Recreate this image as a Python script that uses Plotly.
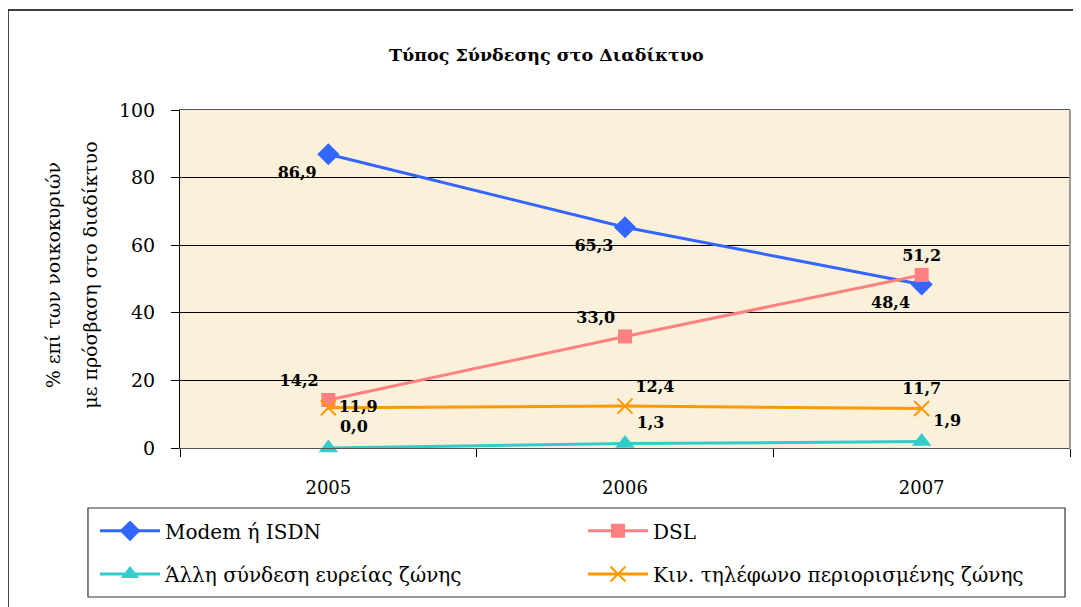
import plotly.graph_objects as go

years = ["2005", "2006", "2007"]
modem = [86.9, 65.3, 48.4]
dsl = [14.2, 33.0, 51.2]
other_broadband = [0.0, 1.3, 1.9]
mobile = [11.9, 12.4, 11.7]

FONT = "DejaVu Serif"
LABEL_FONT = dict(family=FONT, size=16, color="black", weight="bold")

fig = go.Figure()

fig.add_trace(go.Scatter(
    x=years, y=modem, name="Modem ή ISDN", mode="lines+markers+text",
    line=dict(color="#3366FF", width=3),
    marker=dict(symbol="diamond", size=17, color="#3366FF"),
    texttemplate="%{y:.1f}", textposition=["bottom left"] * 3,
    textfont=LABEL_FONT, cliponaxis=False, legend="legend",
))
fig.add_trace(go.Scatter(
    x=years, y=dsl, name="DSL", mode="lines+markers+text",
    line=dict(color="#FF8080", width=3),
    marker=dict(symbol="square", size=14, color="#FF8080"),
    texttemplate="%{y:.1f}", textposition=["top left", "top left", "top center"],
    textfont=LABEL_FONT, cliponaxis=False, legend="legend",
))
fig.add_trace(go.Scatter(
    x=years, y=other_broadband, name="Άλλη σύνδεση ευρείας ζώνης", mode="lines+markers+text",
    line=dict(color="#33CCCC", width=3),
    marker=dict(symbol="triangle-up", size=17, color="#33CCCC"),
    texttemplate="%{y:.1f}", textposition=["top right"] * 3,
    textfont=LABEL_FONT, cliponaxis=False, legend="legend2",
))
fig.add_trace(go.Scatter(
    x=years, y=mobile, name="Κιν. τηλέφωνο περιορισμένης ζώνης", mode="lines+markers+text",
    line=dict(color="#FF9900", width=3),
    marker=dict(symbol="x-thin", size=15, color="#FF9900", line=dict(color="#FF9900", width=2)),
    texttemplate="%{y:.1f}", textposition=["middle right", "top right", "top center"],
    textfont=LABEL_FONT, cliponaxis=False, legend="legend2",
))

legend_common = dict(
    orientation="h", xanchor="left", yanchor="middle",
    font=dict(family=FONT, size=20, color="black"),
    bgcolor="rgba(0,0,0,0)", borderwidth=0,
    itemwidth=60, entrywidth=413, entrywidthmode="pixels",
    traceorder="normal",
)

# the page body adds an 8px offset, margins compensate for it
fig.update_layout(
    width=1081, height=607,
    margin=dict(l=172, r=19, t=102, b=167),
    paper_bgcolor="white", plot_bgcolor="#FBF0DA",
    separators=",.",
    font=dict(family=FONT, size=18, color="black"),
    title=dict(text="<b>Τύπος Σύνδεσης στο Διαδίκτυο</b>", x=0.498, xanchor="center",
               y=0.922, yanchor="middle", font=dict(family=FONT, size=17.5)),
    showlegend=True,
    legend=dict(legend_common, x=-0.0955, y=-0.245),
    legend2=dict(legend_common, x=-0.0955, y=-0.373),
    xaxis=dict(
        type="category", range=[-0.5, 2.5], showgrid=False,
        ticks="outside", ticklen=8, tickcolor="black", tickson="boundaries",
        showline=True, linecolor="#555555", linewidth=1, mirror=True,
        tickfont=dict(family=FONT, size=18), ticklabelstandoff=23,
    ),
    yaxis=dict(
        range=[0, 100], dtick=20, showgrid=True, gridcolor="black", gridwidth=1,
        zeroline=False, ticks="outside", ticklen=8, tickcolor="black",
        showline=True, linecolor="black", linewidth=1,
        tickfont=dict(family=FONT, size=19), ticklabelstandoff=12,
    ),
    annotations=[
        dict(text="% επί των νοικοκυριών", xref="paper", yref="paper",
             x=-0.143, y=0.51, xanchor="center", yanchor="middle", textangle=-90,
             showarrow=False, font=dict(family=FONT, size=19)),
        dict(text="με πρόσβαση στο διαδίκτυο", xref="paper", yref="paper",
             x=-0.102, y=0.51, xanchor="center", yanchor="middle", textangle=-90,
             showarrow=False, font=dict(family=FONT, size=19)),
    ],
    shapes=[
        # outer chart frame (right/bottom edges fall outside the image)
        dict(type="rect", xref="paper", yref="paper", x0=-0.1933, x1=1.03, y0=-0.6, y1=1.296,
             line=dict(color="black", width=1.5), fillcolor="rgba(0,0,0,0)", layer="below"),
        # legend box
        dict(type="rect", xref="paper", yref="paper", x0=-0.1034, x1=0.9944, y0=-0.4408, y1=-0.1775,
             line=dict(color="#333333", width=1.2), fillcolor="rgba(0,0,0,0)"),
        # grey right edge of plot area
        dict(type="line", xref="paper", yref="paper", x0=1, x1=1, y0=0, y1=1,
             line=dict(color="#999999", width=2)),
    ],
)

fig.write_html("out.html")
